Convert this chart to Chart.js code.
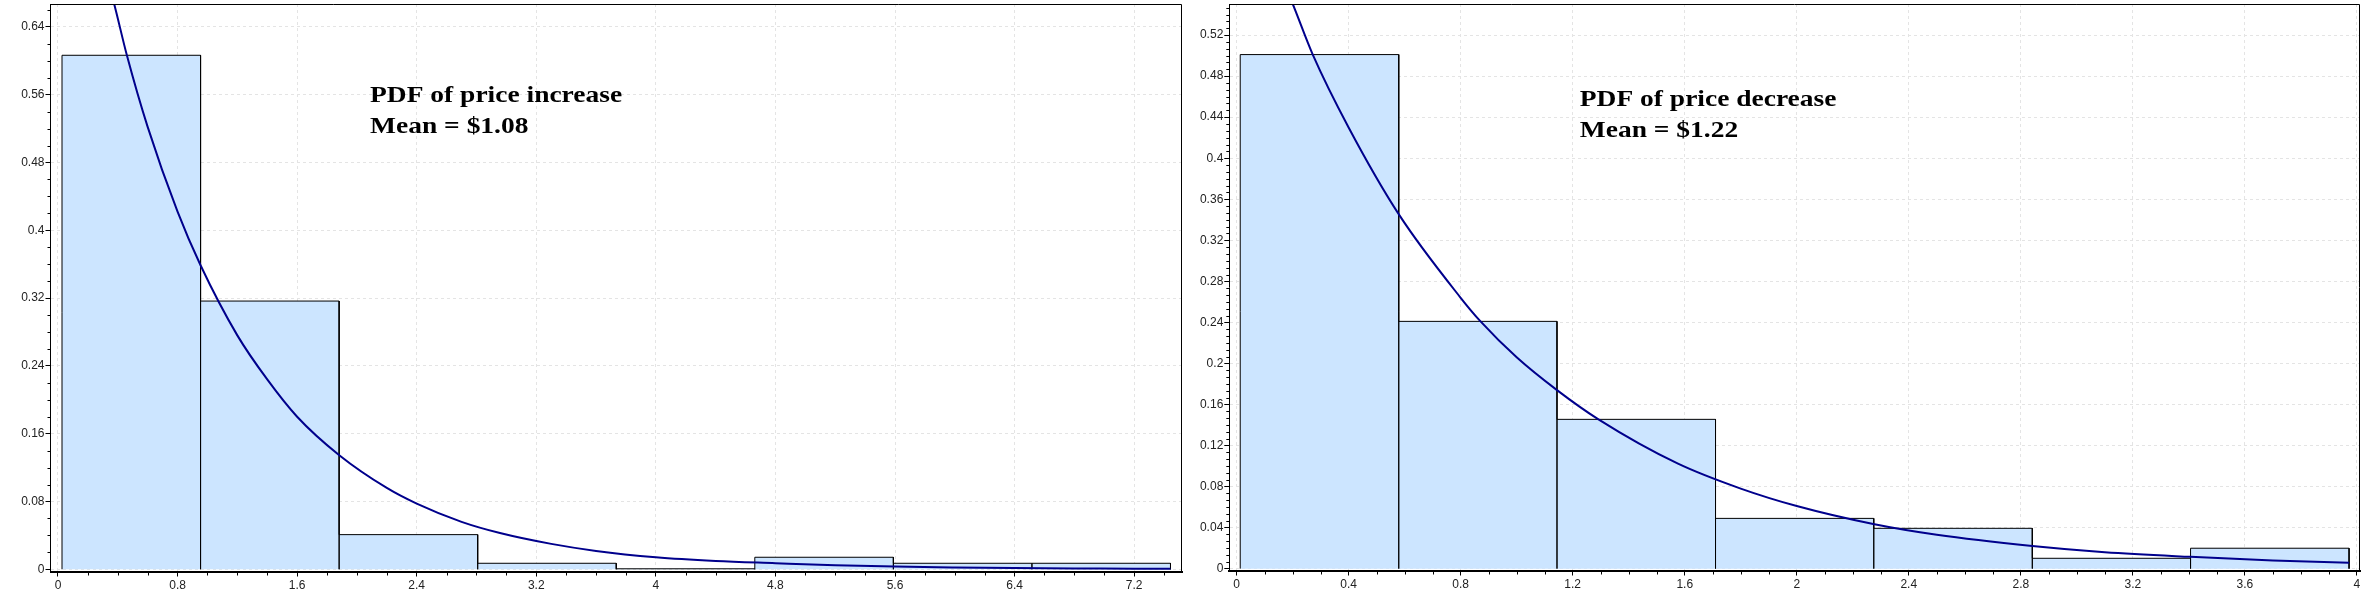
<!DOCTYPE html>
<html>
<head>
<meta charset="utf-8">
<script src="https://cdn.jsdelivr.net/npm/chart.js"></script>
<style>
    body { margin: 0; background: #fff; }
    canvas { position: absolute; top: 0; }
    #left-chart { left: 0; }
    #right-chart { left: 1184px; }
</style>
</head>
<body>
<canvas id="left-chart" width="1184" height="596"></canvas>
<canvas id="right-chart" width="1188" height="596"></canvas>
<script>
// price increase: bin edges, bin densities, fitted curve
const inc_edges = [0.027, 0.954, 1.881, 2.808, 3.735, 4.662, 5.589, 6.516, 7.443];
const inc_heights = [0.6065, 0.3165, 0.0409, 0.0071, 0.0006, 0.0142, 0.0071, 0.0071];
const inc_curve_x = [0.3, 0.376, 0.461, 0.6, 0.8, 0.953, 1.2, 1.4, 1.6, 1.882, 2.2, 2.4, 2.7, 2.957, 3.3, 3.6, 4.0, 4.4, 4.8, 5.2, 5.6, 6.0, 6.4, 6.8, 7.2, 7.443];
const inc_curve_y = [0.715, 0.667, 0.6065, 0.522, 0.422, 0.359, 0.276, 0.224, 0.180, 0.1346, 0.096, 0.0775, 0.056, 0.0428, 0.0300, 0.0217, 0.0142, 0.0098, 0.0072, 0.0048, 0.0032, 0.0022, 0.0015, 0.0010, 0.0007, 0.0005];
const inc_x_ticks = [0, 0.8, 1.6, 2.4, 3.2, 4, 4.8, 5.6, 6.4, 7.2];
const inc_y_ticks = [0, 0.08, 0.16, 0.24, 0.32, 0.4, 0.48, 0.56, 0.64];
const inc_note = ["PDF of price increase", "Mean = $1.08"];

// price decrease
const dec_edges = [0.013, 0.579, 1.144, 1.710, 2.275, 2.841, 3.406, 3.972];
const dec_heights = [0.501, 0.241, 0.1455, 0.049, 0.0393, 0.0101, 0.0199];
const dec_curve_x = [0.15, 0.201, 0.272, 0.4, 0.58, 0.8, 0.871, 1.0, 1.144, 1.292, 1.576, 1.8, 2.0, 2.273, 2.5, 2.841, 3.1, 3.405, 3.7, 3.972];
const dec_curve_y = [0.583, 0.550, 0.501, 0.430, 0.345, 0.264, 0.241, 0.206, 0.174, 0.1455, 0.1023, 0.078, 0.061, 0.0435, 0.033, 0.0221, 0.016, 0.0115, 0.008, 0.0057];
const dec_x_ticks = [0, 0.4, 0.8, 1.2, 1.6, 2, 2.4, 2.8, 3.2, 3.6, 4];
const dec_y_ticks = [0, 0.04, 0.08, 0.12, 0.16, 0.2, 0.24, 0.28, 0.32, 0.36, 0.4, 0.44, 0.48, 0.52];
const dec_note = ["PDF of price decrease", "Mean = $1.22"];


// top and right edge of the plot box
const frame_plugin = {
    id: 'frame',
    afterDraw(chart) {
        const a = chart.chartArea;
        const ctx = chart.ctx;
        ctx.save();
        ctx.strokeStyle = '#000';
        ctx.lineWidth = 1;
        ctx.beginPath();
        ctx.moveTo(a.left, Math.round(a.top) + 0.5);
        ctx.lineTo(Math.round(a.right) - 0.5, Math.round(a.top) + 0.5);
        ctx.lineTo(Math.round(a.right) - 0.5, a.bottom);
        ctx.stroke();
        ctx.restore();
    }
};

// small ticks between the labelled ones
const minor_plugin = {
    id: 'minorTicks',
    afterDraw(chart, args, opts) {
        const ctx = chart.ctx;
        const xs = chart.scales.x;
        const ys = chart.scales.y;
        const a = chart.chartArea;
        ctx.save();
        ctx.strokeStyle = '#000';
        ctx.lineWidth = 1;
        ctx.beginPath();
        for (let i = Math.ceil(xs.min / opts.xStep); i * opts.xStep <= xs.max; i++) {
            if (i % opts.xEvery === 0) continue;
            const px = Math.round(xs.getPixelForValue(i * opts.xStep)) + 0.5;
            ctx.moveTo(px, a.bottom + 1);
            ctx.lineTo(px, a.bottom + 4);
        }
        for (let i = Math.ceil(ys.min / opts.yStep); i * opts.yStep <= ys.max; i++) {
            if (i % opts.yEvery === 0) continue;
            const py = Math.round(ys.getPixelForValue(i * opts.yStep)) + 0.5;
            ctx.moveTo(a.left, py);
            ctx.lineTo(a.left - 3, py);
        }
        ctx.stroke();
        ctx.restore();
    }
};

// the two bold lines of text inside the plot
const note_plugin = {
    id: 'note',
    afterDatasetsDraw(chart, args, opts) {
        const ctx = chart.ctx;
        const px = chart.scales.x.getPixelForValue(opts.x);
        const py = chart.scales.y.getPixelForValue(opts.y);
        ctx.save();
        ctx.fillStyle = '#000';
        ctx.font = 'bold 24px "Liberation Serif", "Times New Roman", serif';
        ctx.textBaseline = 'alphabetic';
        ctx.translate(px, py);
        ctx.scale(1.145, 1);
        opts.lines.forEach((line, i) => {
            ctx.fillText(line, 0, i * 31);
        });
        ctx.restore();
    }
};


function histogram_points(edges, heights) {
    let pts = [{x: edges[0], y: 0}];
    for (let i = 0; i < heights.length; i++) {
        pts.push({x: edges[i], y: heights[i]});
        pts.push({x: edges[i + 1], y: heights[i]});
        pts.push({x: edges[i + 1], y: 0});
    }
    return pts;
}

function make_chart(canvas_id, edges, heights, curve_x, curve_y, x_ticks, y_ticks, note, ax) {
    const tick_font = {family: '"Liberation Sans", Arial, sans-serif', size: 12};
    const curve = curve_x.map((x, i) => ({x: x, y: curve_y[i]}));

    return new Chart(document.getElementById(canvas_id), {
        type: 'line',
        data: {
            datasets: [{
                data: curve,
                borderColor: '#00008c',
                borderWidth: 2,
                pointRadius: 0,
                fill: false,
                cubicInterpolationMode: 'monotone'
            }, {
                data: histogram_points(edges, heights),
                borderColor: '#000',
                borderWidth: 1,
                backgroundColor: '#cce5ff',
                pointRadius: 0,
                tension: 0,
                fill: 'origin'
            }]
        },
        options: {
            responsive: false,
            animation: false,
            devicePixelRatio: 1,
            layout: {padding: {left: 0, right: ax.padRight, top: ax.padTop, bottom: 0}},
            plugins: {
                legend: {display: false},
                tooltip: {enabled: false},
                minorTicks: {xStep: ax.xMinor, xEvery: ax.xEvery, yStep: ax.yMinor, yEvery: ax.yEvery},
                note: {x: ax.noteX, y: ax.noteY, lines: note}
            },
            scales: {
                x: {
                    type: 'linear',
                    bounds: 'data',
                    min: ax.xMin,
                    max: ax.xMax,
                    afterBuildTicks(s) { s.ticks = x_ticks.map(v => ({value: v})); },
                    ticks: {autoSkip: false, maxRotation: 0, callback: v => String(v),
                            font: tick_font, color: '#222', padding: 2},
                    grid: {color: '#e4e4e4', tickColor: '#000', tickLength: 5},
                    border: {color: '#000', width: 2, dash: [3, 3]},
                    afterFit(s) { s.height = ax.xHeight; s.paddingLeft = 0; s.paddingRight = 0; }
                },
                y: {
                    bounds: 'data',
                    min: ax.yMin,
                    max: ax.yMax,
                    afterBuildTicks(s) { s.ticks = y_ticks.map(v => ({value: v})); },
                    ticks: {autoSkip: false, callback: v => String(v),
                            font: tick_font, color: '#222', padding: 1},
                    grid: {color: '#e4e4e4', tickColor: '#000', tickLength: 5},
                    border: {color: '#000', width: 1, dash: [3, 3]},
                    afterFit(s) { s.width = ax.yWidth; s.paddingTop = 0; s.paddingBottom = 0; }
                }
            }
        },
        plugins: [minor_plugin, frame_plugin, note_plugin]
    });
}

make_chart('left-chart', inc_edges, inc_heights, inc_curve_x, inc_curve_y, inc_x_ticks, inc_y_ticks, inc_note, {
    xMin: -0.05, xMax: 7.52, xMinor: 0.2, xEvery: 4,
    yMin: -0.0026, yMax: 0.667, yMinor: 0.02, yEvery: 4,
    yWidth: 50.5, xHeight: 24.5, padRight: 2, padTop: 4,
    noteX: 2.088, noteY: 0.551
});

make_chart('right-chart', dec_edges, dec_heights, dec_curve_x, dec_curve_y, dec_x_ticks, dec_y_ticks, dec_note, {
    xMin: -0.026, xMax: 4.011, xMinor: 0.1, xEvery: 4,
    yMin: -0.0018, yMax: 0.5503, yMinor: 0.04 / 6, yEvery: 6,
    yWidth: 45.3, xHeight: 25.5, padRight: 12, padTop: 4,
    noteX: 1.2254, noteY: 0.451
});
</script>
</body>
</html>
